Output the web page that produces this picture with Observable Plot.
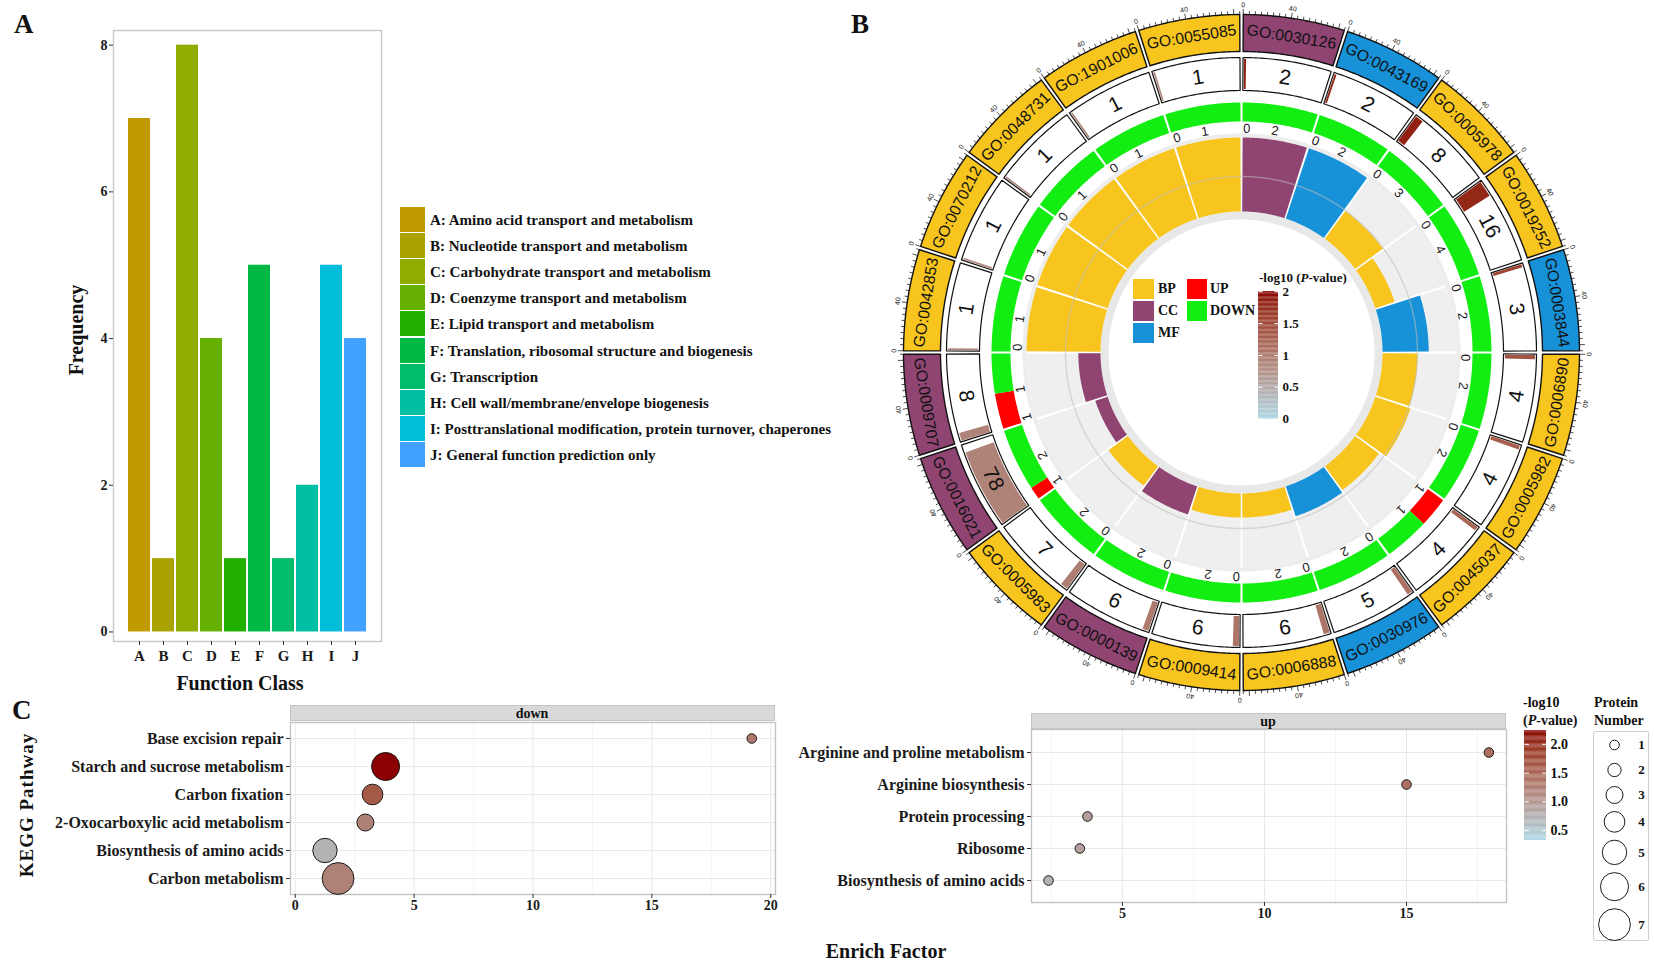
<!DOCTYPE html>
<html><head><meta charset="utf-8">
<script src="https://cdn.jsdelivr.net/npm/d3@7"></script>
<script src="https://cdn.jsdelivr.net/npm/@observablehq/plot@0.6"></script>
<style>
body{margin:0;background:#fff;}
#root{position:relative;width:1654px;height:962px;overflow:hidden;background:#fff;font-family:"Liberation Serif",serif;}
.t{position:absolute;font-family:"Liberation Serif",serif;font-weight:bold;color:#111;white-space:nowrap;line-height:1;}
.sw{position:absolute;}
svg{overflow:visible;}
</style></head><body><div id="root"></div><script>
// ================= DATA =================
// Panel A – COG function classes
const cogLetters = ["A","B","C","D","E","F","G","H","I","J"];
const cogFreq = [7,1,8,4,1,5,1,2,5,4];
const cogNames = ["Amino acid transport and metabolism","Nucleotide transport and metabolism","Carbohydrate transport and metabolism","Coenzyme transport and metabolism","Lipid transport and metabolism","Translation, ribosomal structure and biogenesis","Transcription","Cell wall/membrane/envelope biogenesis","Posttranslational modification, protein turnover, chaperones","General function prediction only"];
const cogColors = ["#C09A00","#A9A200","#90AC00","#65B000","#22B000","#00B944","#00BC6B","#00BFA5","#00BDD9","#40A1FF"];
const freqTicks = [0,2,4,6,8];

// Panel B – GO circle (clockwise from top)
const goIds = ["GO:0030126","GO:0043169","GO:0005978","GO:0019252","GO:0003844","GO:0006890","GO:0005982","GO:0045037","GO:0030976","GO:0006888","GO:0009414","GO:0000139","GO:0005983","GO:0016021","GO:0009707","GO:0042853","GO:0070212","GO:0048731","GO:1901006","GO:0055085"];
const goClass = ["CC","MF","BP","BP","MF","BP","BP","BP","MF","BP","BP","CC","BP","CC","CC","BP","BP","BP","BP","BP"];
const goCount = [2,2,8,16,3,4,4,4,5,6,6,6,7,78,8,1,1,1,1,1];
const goLogP = [1.85,1.8,1.85,1.8,1.55,1.4,1.3,1.2,1.1,1.05,1.05,1.0,0.95,0.9,0.9,0.85,0.85,0.85,0.85,0.85];
const upRatio = [0,0,0,0,0,0,0,0.4,0,0,0,0,0,0.17,0.47,0,0,0,0,0];
const innerValue = [2,2,1.4,1.1,1.25,0.95,1,0.4,0.85,0.65,0.65,0.8,0.65,0.35,0.3,1,1,1,1,1];
const innerMax = [2,2,3,4,2,2,2,1,2,2,2,2,2,2,1,1,1,1,1,1];
const innerLab0 = ["0","0","0","0","0","0","0","1","0","0","0","0","0","1","1","0","0","0","0","0"];
const classNames = ["BP","CC","MF"];
const classColors = ["#F7C51E","#8F4472","#1792D9"];
const udNames = ["UP","DOWN"];
const udColors = ["#FF0000","#12EE12"];
const logPTicks = [0,0.5,1,1.5,2];

// Panel C – KEGG enrichment
const downPathways = ["Base excision repair","Starch and sucrose metabolism","Carbon fixation","2-Oxocarboxylic acid metabolism","Biosynthesis of amino acids","Carbon metabolism"];
const downFactor = [19.2,3.8,3.25,2.95,1.25,1.8];
const downNumber = [1,6,4,3,5,7];
const downLogP = [1.3,2.24,1.6,1.2,0.7,1.2];
const upPathways = ["Arginine and proline metabolism","Arginine biosynthesis","Protein processing","Ribosome","Biosynthesis of amino acids"];
const upFactor = [17.9,15,3.77,3.5,2.4];
const upNumber = [1,1,1,1,1];
const upLogP = [1.4,1.35,0.9,0.88,0.72];
const numberLevels = [1,2,3,4,5,6,7];
const kLogPTicks = [0.5,1,1.5,2];

// ================= HELPERS =================
const root = document.getElementById("root");
function addText(html, x, y, o={}){
  const d=document.createElement("div"); d.className="t"; d.innerHTML=html;
  d.style.left=x+"px"; d.style.top=y+"px"; d.style.fontSize=(o.size||14)+"px";
  let tr="";
  if(o.anchor==="middle") tr+="translate(-50%,-50%) ";
  else tr+="translate(0,-50%) ";
  if(o.rotate) tr+=`rotate(${o.rotate}deg)`;
  d.style.transform=tr;
  if(o.ls) d.style.letterSpacing=o.ls;
  if(o.weight) d.style.fontWeight=o.weight;
  root.appendChild(d); return d;
}
function addBox(x,y,w,h,style){const d=document.createElement("div");d.className="sw";d.style.left=x+"px";d.style.top=y+"px";d.style.width=w+"px";d.style.height=h+"px";Object.assign(d.style,style);root.appendChild(d);return d;}
function addPlot(svg,x,y){svg.style.position="absolute";svg.style.left=x+"px";svg.style.top=y+"px";root.appendChild(svg);}
const serif = {fontFamily:"Liberation Serif", fontWeight:"bold", background:"transparent", color:"#1a1a1a", overflow:"visible"};

// ================= PANEL A =================
addText("A",14,24,{size:27});
const cog = cogLetters.map((k,i)=>({k, v:cogFreq[i], c:cogColors[i]}));
const plotA = Plot.plot({
  width:400, height:700, marginLeft:113, marginRight:19, marginTop:30, marginBottom:59,
  style:serif,
  x:{domain:cogLetters, paddingInner:0.1, paddingOuter:0.62, axis:null},
  y:{domain:[-0.13,8.2], axis:null},
  color:{type:"identity"},
  marks:[
    Plot.barY(cog,{x:"k", y:"v", fill:"c"}),
    Plot.frame({stroke:"#c8c8c8", strokeWidth:1.4}),
    Plot.axisY(freqTicks,{tickSize:4, tickPadding:2, fontSize:14, fontWeight:"bold", label:null, stroke:"#333", tickFormat:d=>String(d)}),
    Plot.axisX({tickSize:4, tickPadding:5, fontSize:15, fontWeight:"bold", label:null, stroke:"#333"})
  ]
});
addPlot(plotA,0,0);
addText("Frequency",76,330,{size:20,anchor:"middle",rotate:-90});
addText("Function Class",240,683,{size:20,anchor:"middle"});
cogLetters.forEach((k,i)=>{
  addBox(400,207+i*26.1,25,25.1,{background:cogColors[i]});
  addText(`${k}: ${cogNames[i]}`,430,220+i*26.1,{size:15});
});

// ================= PANEL B =================
addText("B",851,24,{size:27});
const classColor = Object.fromEntries(classNames.map((c,i)=>[c,classColors[i]]));
const logPColor = d3.scaleLinear().domain([0,2]).range(["lightblue","darkred"]).interpolate(d3.interpolateLab);
const SEC = 360/goIds.length, UNIT = 85;
const R = {rimIn:133, trackIn:141, trackOut:215, rimOut:219, lab:224, udIn:231, udOut:250, numIn:262, numOut:295, goIn:301, goOut:338};
function pt(a,r){const t=a*Math.PI/180;return {x:r*Math.sin(t), y:r*Math.cos(t)};}
function arcPoly(id,a0,a1,r0,r1,fill){
  const n=Math.max(2,Math.ceil((a1-a0)/0.5)); const out=[];
  for(let k=0;k<=n;k++){const a=a0+(a1-a0)*k/n; out.push({...pt(a,r1),id,fill});}
  for(let k=n;k>=0;k--){const a=a0+(a1-a0)*k/n; out.push({...pt(a,r0),id,fill});}
  return out;
}
const textRot = a => (a>90 && a<270) ? a-180 : a;
const sectors = goIds.map((id,i)=>({id,i,cls:goClass[i],count:goCount[i],logp:goLogP[i],up:upRatio[i],v:innerValue[i],max:innerMax[i],lab0:innerLab0[i],a0:i*SEC,a1:(i+1)*SEC,mid:(i+0.5)*SEC}));

const rims = [...arcPoly("rimA",0,360,R.rimIn,R.trackIn,"#E8E8E8"), ...arcPoly("rimB",0,360,R.trackOut,R.rimOut,"#EDEDED")];
const trackBg = sectors.flatMap(s=>arcPoly("bg"+s.i,s.a0+0.3,s.a1-0.3,R.trackIn,R.trackOut,"#EFEFEF"));
const trackBars = sectors.flatMap(s=>arcPoly("tb"+s.i,s.a0+0.3,s.a1-0.3,R.trackIn,R.trackIn+(R.trackOut-R.trackIn)*s.v/s.max,classColor[s.cls]));
const midCircle = d3.range(0,360,1).map(a=>({...pt(a,176)}));
const udRing = sectors.flatMap(s=>{
  const a0=s.a0+0.25, a1=s.a1-0.25, am=a0+s.up*(a1-a0);
  const parts=[];
  if(s.up>0) parts.push(...arcPoly("up"+s.i,a0,am,R.udIn,R.udOut,udColors[0]));
  parts.push(...arcPoly("dn"+s.i,am,a1,R.udIn,R.udOut,udColors[1]));
  return parts;
});
const innerLabels = sectors.flatMap(s=>[
  {...pt(s.a0+1.3,R.lab), t:s.lab0, rot:s.a0+1.3},
  {...pt(s.a0+8.6,R.lab), t:String(s.max), rot:s.a0+8.6}
]);
const numCells = sectors.flatMap(s=>arcPoly("nc"+s.i,s.a0+0.3,s.a1-0.3,R.numIn,R.numOut,"#FFFFFF"));
const numBars = sectors.flatMap(s=>{
  const a0=s.a0+0.5, w=Math.max(0.35,s.count/UNIT*(SEC-1));
  return arcPoly("nb"+s.i,a0,a0+w,R.numIn+1.5,R.numOut-1.5,logPColor(s.logp));
});
const numLabels = sectors.map(s=>({...pt(s.mid,278.5), t:String(s.count), rot:textRot(s.mid)}));
const goBlocks = sectors.flatMap(s=>arcPoly("go"+s.i,s.a0+0.3,s.a1-0.3,R.goIn,R.goOut,classColor[s.cls]));
const goLabels = sectors.map(s=>({...pt(s.mid,319.5), t:s.id, rot:textRot(s.mid)}));
const tickData = sectors.flatMap(s=>d3.range(0,UNIT+1,5).map(u=>{
  const a=s.a0+0.3+u/UNIT*(SEC-0.6); const len=(u%40===0)?5.5:3.5;
  const p1=pt(a,R.goOut), p2=pt(a,R.goOut+len);
  return {x1:p1.x,y1:p1.y,x2:p2.x,y2:p2.y};
}));
const tickLabels = sectors.flatMap(s=>[0,40].map(u=>{
  const a=s.a0+0.3+u/UNIT*(SEC-0.6); return {...pt(a,347.5), t:String(u), rot:a};
}));
const poly = (data,o)=>Plot.line(data,{x:"x",y:"y",z:"id",fill:"fill",curve:"linear-closed",stroke:"none",...o});
const plotB = Plot.plot({
  width:712, height:712, margin:0,
  x:{domain:[-356,356], axis:null}, y:{domain:[-360,352], axis:null},
  color:{type:"identity"},
  style:{background:"transparent", overflow:"visible", fontFamily:"Liberation Sans"},
  marks:[
    poly(rims),
    poly(trackBg),
    poly(trackBars),
    Plot.line(midCircle,{x:"x",y:"y",curve:"linear-closed",stroke:"#bdbdbd",strokeOpacity:0.55,strokeWidth:1.4}),
    poly(udRing),
    Plot.text(innerLabels,{x:"x",y:"y",text:"t",rotate:"rot",fontSize:13,fill:"#1a1a1a"}),
    poly(numCells,{stroke:"#111",strokeWidth:1.2}),
    poly(numBars),
    Plot.text(numLabels,{x:"x",y:"y",text:"t",rotate:"rot",fontSize:21,fill:"#111"}),
    poly(goBlocks,{stroke:"#111",strokeWidth:1.4}),
    Plot.text(goLabels,{x:"x",y:"y",text:"t",rotate:"rot",fontSize:15.8,fill:"#111"}),
    Plot.link(tickData,{x1:"x1",y1:"y1",x2:"x2",y2:"y2",stroke:"#222",strokeWidth:0.8}),
    Plot.text(tickLabels,{x:"x",y:"y",text:"t",rotate:"rot",fontSize:7,fill:"#222"})
  ]
});
addPlot(plotB,1241-356,0);
// centre legend
classNames.forEach((c,i)=>{addBox(1133,279+i*22,21,20,{background:classColors[i]}); addText(c,1158,289+i*22,{size:14});});
udNames.forEach((c,i)=>{addBox(1187,279+i*22,20,20,{background:udColors[i]}); addText(c,1210,289+i*22,{size:14});});
addText("-log10 (<i>P</i>-value)",1259,277,{size:13});
const cbBSlices = d3.range(0,2,0.02);
const cbB = Plot.plot({
  width:52, height:137, marginTop:0, marginBottom:0, marginLeft:0, marginRight:32,
  x:{domain:[0,1],axis:null}, y:{domain:[-0.1,2.05],axis:null}, color:{type:"identity"},
  style:serif,
  marks:[
    Plot.rect(cbBSlices,{x1:0,x2:1,y1:d=>d,y2:d=>d+0.021,fill:d=>logPColor(d+0.01)}),
    Plot.link(logPTicks,{x1:0,x2:0.2,y1:d=>d,y2:d=>d,stroke:"white",strokeWidth:1}),
    Plot.link(logPTicks,{x1:0.8,x2:1,y1:d=>d,y2:d=>d,stroke:"white",strokeWidth:1}),
    Plot.text(logPTicks,{x:1,y:d=>d,text:d=>String(d),dx:4,textAnchor:"start",fontSize:13,fontWeight:"bold",fill:"#111"})
  ]
});
addPlot(cbB,1258,288);

// ================= PANEL C =================
addText("C",12,710,{size:27});
const kColor = d3.scaleLinear().domain([0.33,2.24]).range(["lightblue","darkred"]).interpolate(d3.interpolateLab);
const rScale = {type:"linear", domain:[1,7], range:[4.8,15.9]};
function keggPlot(names,factor,number,logp,o){
  const rows = names.map((n,i)=>({n,f:factor[i],c:number[i],col:kColor(logp[i])}));
  return Plot.plot({
    width:o.width, height:o.height, marginLeft:o.ml, marginRight:o.mr, marginTop:0, marginBottom:o.mb,
    x:{domain:o.xdom, axis:null}, y:{domain:names, type:"point", padding:o.pad, axis:null},
    r:rScale, color:{type:"identity"},
    style:serif,
    marks:[
      Plot.gridX(o.minor,{stroke:"#f3f3f3",strokeOpacity:1,strokeWidth:0.8}),
      Plot.gridX(o.major,{stroke:"#e9e9e9",strokeOpacity:1,strokeWidth:1}),
      Plot.gridY(names,{stroke:"#e9e9e9",strokeOpacity:1,strokeWidth:1}),
      Plot.frame({stroke:"#c4c4c4",strokeWidth:1.4}),
      Plot.axisX(o.major,{tickSize:4,tickPadding:2,fontSize:14,fontWeight:"bold",label:null,stroke:"#333"}),
      Plot.axisY(names,{tickSize:4,tickPadding:3,fontSize:16,fontWeight:"bold",label:null,stroke:"#333"}),
      Plot.dot(rows,{x:"f",y:"n",r:"c",fill:"col",stroke:"#1a1a1a",strokeWidth:1})
    ]
  });
}
const downPlot = keggPlot(downPathways,downFactor,downNumber,downLogP,{width:790,height:200,ml:290,mr:15,mb:28,xdom:[-0.2,20.2],pad:0.5,major:[0,5,10,15,20],minor:[2.5,7.5,12.5,17.5]});
addPlot(downPlot,0,722);
addBox(290,705,485,16,{background:"#D9D9D9",border:"1px solid #c4c4c4",boxSizing:"border-box"});
addText("down",532,714,{size:14,anchor:"middle"});
const upPlot = keggPlot(upPathways,upFactor,upNumber,upLogP,{width:775,height:201,ml:291,mr:9,mb:28,xdom:[1.8,18.52],pad:0.7,major:[5,10,15],minor:[2.5,7.5,12.5,17.5]});
addPlot(upPlot,740,729);
addBox(1031,713,475,16,{background:"#D9D9D9",border:"1px solid #c4c4c4",boxSizing:"border-box"});
addText("up",1268,722,{size:14,anchor:"middle"});
addText("KEGG Pathway",26,805,{size:19,anchor:"middle",rotate:-90,ls:"1px"});
addText("Enrich Factor",886,951,{size:20,anchor:"middle"});
// colour legend C
addText("-log10",1523,703,{size:14});
addText("(<i>P</i>-value)",1523,721,{size:14});
const cbCSlices = d3.range(0.33,2.24,0.02);
const cbC = Plot.plot({
  width:60, height:110, marginTop:0, marginBottom:0, marginLeft:0, marginRight:38,
  x:{domain:[0,1],axis:null}, y:{domain:[0.33,2.24],axis:null}, color:{type:"identity"},
  style:serif,
  marks:[
    Plot.rect(cbCSlices,{x1:0,x2:1,y1:d=>d,y2:d=>Math.min(2.24,d+0.021),fill:d=>kColor(d+0.01)}),
    Plot.link(kLogPTicks,{x1:0,x2:0.2,y1:d=>d,y2:d=>d,stroke:"white",strokeWidth:1}),
    Plot.link(kLogPTicks,{x1:0.8,x2:1,y1:d=>d,y2:d=>d,stroke:"white",strokeWidth:1}),
    Plot.text(kLogPTicks,{x:1,y:d=>d,text:d=>d.toFixed(1),dx:4,textAnchor:"start",fontSize:14,fontWeight:"bold",fill:"#111"})
  ]
});
addPlot(cbC,1524,730);
// size legend
addText("Protein",1594,703,{size:14});
addText("Number",1594,721,{size:14});
addBox(1593,731,56,210,{border:"1px solid #cfcfcf",boxSizing:"border-box",borderRadius:"2px"});
const rad = d3.scaleLinear().domain(rScale.domain).range(rScale.range);
let acc = 1;
const sizeKeys = numberLevels.map(v=>{const k=Math.max(25,2*rad(v)+8); const y=acc+k/2; acc+=k; return {v,y};});
const sizeLeg = Plot.plot({
  width:56, height:210, margin:0,
  x:{type:"identity", axis:null}, y:{type:"identity", axis:null}, r:rScale,
  style:serif,
  marks:[
    Plot.dot(sizeKeys,{x:21,y:"y",r:"v",fill:"white",stroke:"#1a1a1a",strokeWidth:1}),
    Plot.text(sizeKeys,{x:48,y:"y",text:d=>String(d.v),fontSize:13,fontWeight:"bold",fill:"#111"})
  ]
});
addPlot(sizeLeg,1593,731);
</script></body></html>
